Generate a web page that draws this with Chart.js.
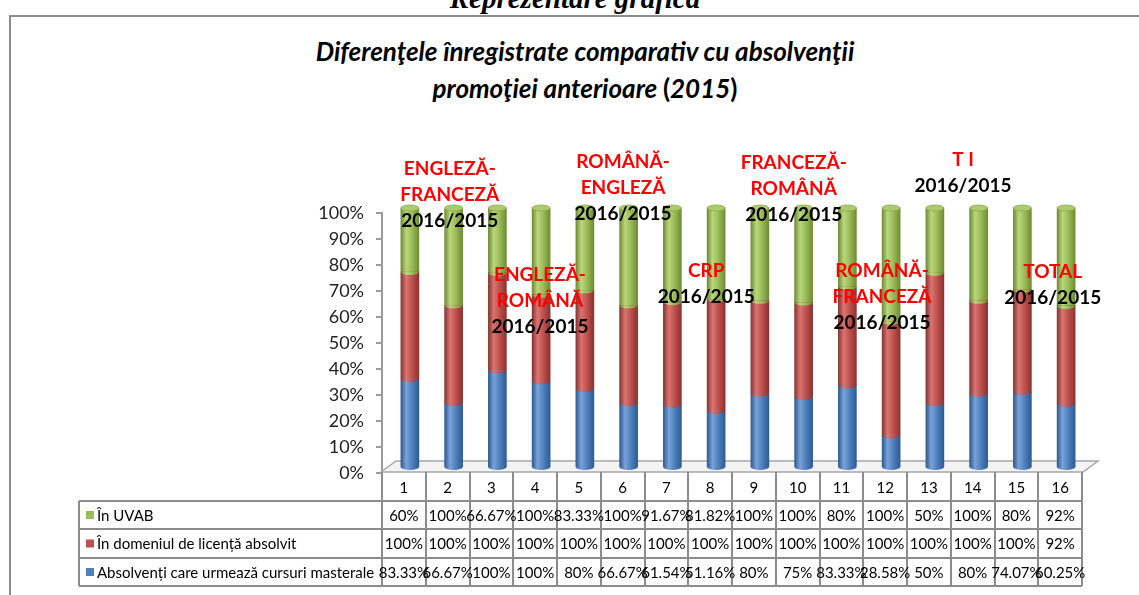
<!DOCTYPE html>
<html>
<head>
<meta charset="utf-8">
<script src="https://cdn.jsdelivr.net/npm/chart.js@4.4.1/dist/chart.umd.min.js"></script>
<style>
    body { margin: 0; background: #fff; overflow: hidden; }
    #wrap { position: relative; width: 1139px; height: 595px; overflow: hidden; }
    #frame { position: absolute; left: 9px; top: 15px; width: 1300px; height: 700px;
             border-top: 2px solid #8c8c8c; border-left: 2px solid #8c8c8c; }
    #page-title { position: absolute; left: 0; width: 1150px; top: -16px; text-align: center;
                  font: italic bold 29px "Liberation Serif"; line-height: 29px; }
    #chart-title { position: absolute; left: 0; width: 1170px; top: 33px; text-align: center;
                   font: italic bold 26px Lato; line-height: 37px; color: #000; }
    #chart-title .up { font-style: normal; }
    canvas { position: absolute; left: 0; top: 0; }
</style>
</head>
<body>
<div id="wrap">
    <div id="frame"></div>
    <div id="page-title">Reprezentare grafică</div>
    <div id="chart-title">Diferenţele înregistrate comparativ cu absolvenţii<br>promoţiei anterioare <span class="up">(</span>2015<span class="up">)</span></div>
    <canvas id="chart" width="1139" height="595"></canvas>
</div>
<script>
// Data
const categories = ['1', '2', '3', '4', '5', '6', '7', '8', '9', '10', '11', '12', '13', '14', '15', '16'];
const uvab = [60, 100, 66.67, 100, 83.33, 100, 91.67, 81.82, 100, 100, 80, 100, 50, 100, 80, 92];
const domeniu = [100, 100, 100, 100, 100, 100, 100, 100, 100, 100, 100, 100, 100, 100, 100, 92];
const masterale = [83.33, 66.67, 100, 100, 80, 66.67, 61.54, 51.16, 80, 75, 83.33, 28.58, 50, 80, 74.07, 60.25];
const seriesNames = ['În UVAB', 'În domeniul de licență absolvit', 'Absolvenți care urmează cursuri masterale'];
const yTicks = [0, 10, 20, 30, 40, 50, 60, 70, 80, 90, 100];

// Text boxes placed over the plot (last line black, the others red)
const noteLines = [
    ['ENGLEZĂ-', 'FRANCEZĂ', '2016/2015'],
    ['ENGLEZĂ-', 'ROMÂNĂ', '2016/2015'],
    ['ROMÂNĂ-', 'ENGLEZĂ', '2016/2015'],
    ['CRP', '2016/2015'],
    ['FRANCEZĂ-', 'ROMÂNĂ', '2016/2015'],
    ['T I', '2016/2015'],
    ['ROMÂNĂ-', 'FRANCEZĂ', '2016/2015'],
    ['TOTAL', '2016/2015']
];
// where each text box sits, in axis units (category index, percent)
const noteAnchors = [
    [1.05, 116.9], [3.11, 76.2], [5.01, 119.6], [6.91, 77.7],
    [8.91, 119.2], [12.78, 120.4], [10.93, 77.7], [14.83, 77.3]
];

const COLORS = {
    green: { base: '#9bbb59', light: '#bad77c', dark: '#6f8c34', cap: '#aecb6c' },
    red:   { base: '#c0504d', light: '#d97571', dark: '#8a3330' },
    blue:  { base: '#4f81bd', light: '#79a2d8', dark: '#2e5b93' }
};
const BAR_W = 18;
const DEPTH = { dx: 6, dy: -5 };
const ROWS = [501, 529, 558, 586];
const TABLE_LEFT = 79;
const FONT = 'Lato';

// 100% stacked: every column is shown as share of its total
const totals = categories.map(function(c, i) { return uvab[i] + domeniu[i] + masterale[i]; });
function share(arr) {
    return arr.map(function(v, i) { return v / totals[i] * 100; });
}

function cylinder(chart, x, col) {
    const g = chart.ctx.createLinearGradient(x - BAR_W / 2, 0, x + BAR_W / 2, 0);
    g.addColorStop(0, col.dark);
    g.addColorStop(0.3, col.light);
    g.addColorStop(0.62, col.base);
    g.addColorStop(1, col.dark);
    return g;
}

function barFill(col) {
    return function(c) {
        const xs = c.chart.scales.x;
        if (!xs || !c.chart.chartArea) return col.base;
        return cylinder(c.chart, xs.getPixelForValue(c.dataIndex), col);
    };
}

const depthPlugin = {
    id: 'depth',
    beforeDatasetsDraw(chart) {
        const ctx = chart.ctx;
        const xs = chart.scales.x, ys = chart.scales.y;
        // floor
        const l = xs.left - 1, r = xs.right + 1, b = ys.bottom - 1;
        ctx.save();
        ctx.beginPath();
        ctx.moveTo(l, b);
        ctx.lineTo(l + 15, b - 11);
        ctx.lineTo(r + 15, b - 11);
        ctx.lineTo(r, b);
        ctx.closePath();
        ctx.fillStyle = '#f3f3f3';
        ctx.fill();
        ctx.strokeStyle = '#a6a6a6';
        ctx.lineWidth = 1.5;
        ctx.stroke();
        ctx.restore();

        ctx.save();
        ctx.translate(DEPTH.dx, DEPTH.dy);
    },
    afterDatasetsDraw(chart) {
        const ctx = chart.ctx;
        const cols = [COLORS.blue, COLORS.red, COLORS.green];
        chart.data.datasets.forEach(function(ds, d) {
            const meta = chart.getDatasetMeta(d);
            meta.data.forEach(function(el) {
                const p = el.getProps(['x', 'y', 'base'], true);
                // rounded lower edge of every segment
                ctx.beginPath();
                ctx.ellipse(p.x, p.base, BAR_W / 2, 3, 0, 0, Math.PI);
                ctx.fillStyle = cylinder(chart, p.x, cols[d]);
                ctx.fill();
                if (d === 2) {
                    ctx.beginPath();
                    ctx.ellipse(p.x, p.y, BAR_W / 2, 3, 0, 0, Math.PI * 2);
                    ctx.fillStyle = cols[d].cap;
                    ctx.fill();
                    ctx.strokeStyle = '#8aa84c';
                    ctx.lineWidth = 0.8;
                    ctx.stroke();
                }
            });
        });
        ctx.restore();
    },
    afterDraw(chart) {
        const ctx = chart.ctx;
        const xs = chart.scales.x, ys = chart.scales.y;
        const colW = xs.getPixelForValue(1) - xs.getPixelForValue(0);
        const left0 = xs.getPixelForValue(0) - colW / 2;
        const top = ys.bottom - 1;
        const right = left0 + colW * categories.length;

        // text boxes
        ctx.save();
        ctx.textAlign = 'center';
        ctx.textBaseline = 'middle';
        ctx.font = 'bold 19px ' + FONT;
        noteLines.forEach(function(lines, n) {
            const x = xs.getPixelForValue(noteAnchors[n][0]);
            const y = ys.getPixelForValue(noteAnchors[n][1]);
            lines.forEach(function(t, k) {
                ctx.fillStyle = k === lines.length - 1 ? '#000' : '#ff0000';
                ctx.fillText(t, x, y + k * 26);
            });
        });
        ctx.restore();

        // data table
        ctx.save();
        ctx.strokeStyle = '#8c8c8c';
        ctx.lineWidth = 2;
        ctx.beginPath();
        for (let k = 0; k <= categories.length; k++) {
            const x = Math.round(left0 + k * colW);
            ctx.moveTo(x, top);
            ctx.lineTo(x, ROWS[3]);
        }
        ctx.moveTo(TABLE_LEFT, ROWS[0]);
        ctx.lineTo(TABLE_LEFT, ROWS[3]);
        ROWS.forEach(function(y) {
            ctx.moveTo(TABLE_LEFT, y);
            ctx.lineTo(right, y);
        });
        ctx.stroke();

        ctx.font = '15px ' + FONT;
        ctx.fillStyle = '#000';
        ctx.textBaseline = 'middle';
        ctx.textAlign = 'center';
        categories.forEach(function(c, i) {
            ctx.fillText(c, xs.getPixelForValue(i), (top + ROWS[0]) / 2 + 2);
        });
        const rowData = [uvab, domeniu, masterale];
        const rowCols = [COLORS.green, COLORS.red, COLORS.blue];
        const rowNames = [seriesNames[0], seriesNames[1], seriesNames[2]];
        rowData.forEach(function(arr, r) {
            const yc = (ROWS[r] + ROWS[r + 1]) / 2 + 1;
            ctx.textAlign = 'center';
            arr.forEach(function(v, i) {
                ctx.fillText(v + '%', xs.getPixelForValue(i), yc);
            });
            ctx.fillStyle = rowCols[r].base;
            ctx.fillRect(TABLE_LEFT + 7, yc - 5, 8, 8);
            ctx.fillStyle = '#000';
            ctx.textAlign = 'left';
            ctx.fillText(rowNames[r], TABLE_LEFT + 18, yc);
        });
        ctx.restore();
    }
};

new Chart(document.getElementById('chart'), {
    type: 'bar',
    data: {
        labels: categories,
        datasets: [
            { label: seriesNames[2], data: share(masterale), backgroundColor: barFill(COLORS.blue) },
            { label: seriesNames[1], data: share(domeniu), backgroundColor: barFill(COLORS.red) },
            { label: seriesNames[0], data: share(uvab), backgroundColor: barFill(COLORS.green) }
        ]
    },
    options: {
        responsive: false,
        animation: false,
        datasets: { bar: { barThickness: BAR_W, borderWidth: 0, clip: false } },
        layout: { padding: { left: 302, right: 57, top: 213, bottom: 122 } },
        plugins: { legend: { display: false }, tooltip: { enabled: false }, title: { display: false } },
        scales: {
            x: { stacked: true, display: false, offset: true },
            y: {
                stacked: true,
                min: 0,
                max: 100,
                afterBuildTicks: function(s) { s.ticks = yTicks.map(function(v) { return { value: v }; }); },
                afterFit: function(s) { s.width = 80; },
                ticks: {
                    padding: 12,
                    color: '#222',
                    font: { family: FONT, size: 18 },
                    callback: function(v) { return v + '%'; }
                },
                grid: { drawOnChartArea: false, drawTicks: true, tickLength: 6, color: '#9a9a9a', lineWidth: 2 },
                border: { color: '#9a9a9a', width: 2 }
            }
        }
    },
    plugins: [depthPlugin]
});
</script>
</body>
</html>
